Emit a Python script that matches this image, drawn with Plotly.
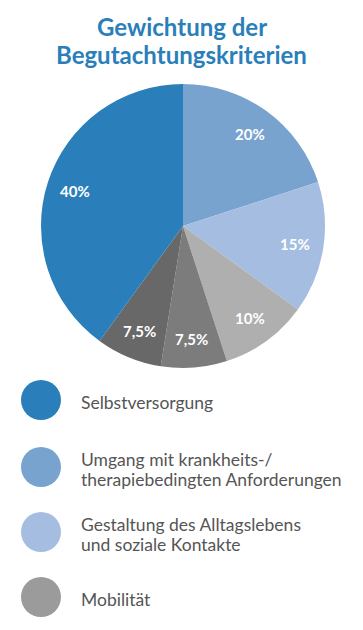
import math
import plotly.graph_objects as go

W, H = 363, 630

labels = [
    "Umgang mit krankheits-/therapiebedingten Anforderungen",
    "Gestaltung des Alltagslebens und soziale Kontakte",
    "Mobilität",
    "Kognitive und kommunikative Fähigkeiten",
    "Verhaltensweisen und psychische Problemlagen",
    "Selbstversorgung",
]
values = [20, 15, 10, 7.5, 7.5, 40]
value_text = ["20%", "15%", "10%", "7,5%", "7,5%", "40%"]
colors = ["#79a3cf", "#a4bde0", "#afafaf", "#7c7c7c", "#686868", "#2a7fbb"]

legend_labels = [
    ["Selbstversorgung"],
    ["Umgang mit krankheits-/", "therapiebedingten Anforderungen"],
    ["Gestaltung des Alltagslebens", "und soziale Kontakte"],
    ["Mobilität"],
]
legend_colors = ["#2a7fbb", "#79a3cf", "#a4bde0", "#9c9b9c"]

title_lines = ["Gewichtung der", "Begutachtungskriterien"]

FONT = "Lato"

# pie geometry (pixels)
PIE_X0, PIE_X1, PIE_Y0, PIE_Y1 = 41, 325, 84, 368
CX, CY = (PIE_X0 + PIE_X1) / 2, (PIE_Y0 + PIE_Y1) / 2
R = (PIE_X1 - PIE_X0) / 2
LABEL_R = 0.8 * R

fig = go.Figure()
fig.add_trace(go.Pie(
    labels=labels,
    values=values,
    text=value_text,
    textinfo="none",
    marker=dict(colors=colors, line=dict(width=0)),
    sort=False,
    direction="clockwise",
    rotation=0,
    showlegend=False,
    hoverinfo="label+text",
    domain=dict(x=[PIE_X0 / W, PIE_X1 / W], y=[1 - PIE_Y1 / H, 1 - PIE_Y0 / H]),
))

# invisible pixel-space axes for labels and custom legend
fig.update_layout(
    xaxis=dict(range=[0, W], visible=False, fixedrange=True, domain=[0, 1]),
    yaxis=dict(range=[H, 0], visible=False, fixedrange=True, domain=[0, 1]),
)

# slice labels at mid-angles derived from the values
total = sum(values)
cum = 0
for v, t in zip(values, value_text):
    mid = (cum + v / 2) / total * 2 * math.pi
    cum += v
    fig.add_annotation(x=CX + LABEL_R * math.sin(mid), y=CY - LABEL_R * math.cos(mid),
                       xref="x", yref="y", text=t, showarrow=False,
                       xanchor="center", yanchor="middle",
                       font=dict(family=FONT, size=15, color="white", weight="bold"))

legend_y = [400, 467, 532, 597]
LINE_GAP = 20
for yc, lines, col in zip(legend_y, legend_labels, legend_colors):
    fig.add_shape(type="circle", xref="x", yref="y",
                  x0=21, x1=61, y0=yc - 20, y1=yc + 20,
                  fillcolor=col, line=dict(width=0))
    n = len(lines)
    for i, ln in enumerate(lines):
        yy = yc + (i - (n - 1) / 2) * LINE_GAP
        fig.add_annotation(x=79, y=yy + 2, xref="x", yref="y", text=ln,
                           showarrow=False, xanchor="left", yanchor="middle",
                           align="left",
                           font=dict(family=FONT, size=17.5, color="#555555"))

for i, ln in enumerate(title_lines):
    fig.add_annotation(x=W / 2, y=26 + i * 28.5, xref="x", yref="y", text=ln,
                       showarrow=False, xanchor="center", yanchor="middle",
                       align="center",
                       font=dict(family=FONT, size=24, color="#2a7fbb", weight="bold"))

fig.update_layout(
    width=W, height=H,
    margin=dict(l=0, r=0, t=0, b=0),
    paper_bgcolor="white",
    plot_bgcolor="white",
)

fig.write_html("out.html", config={"displayModeBar": False},
               post_script="document.body.style.margin='0px';")
